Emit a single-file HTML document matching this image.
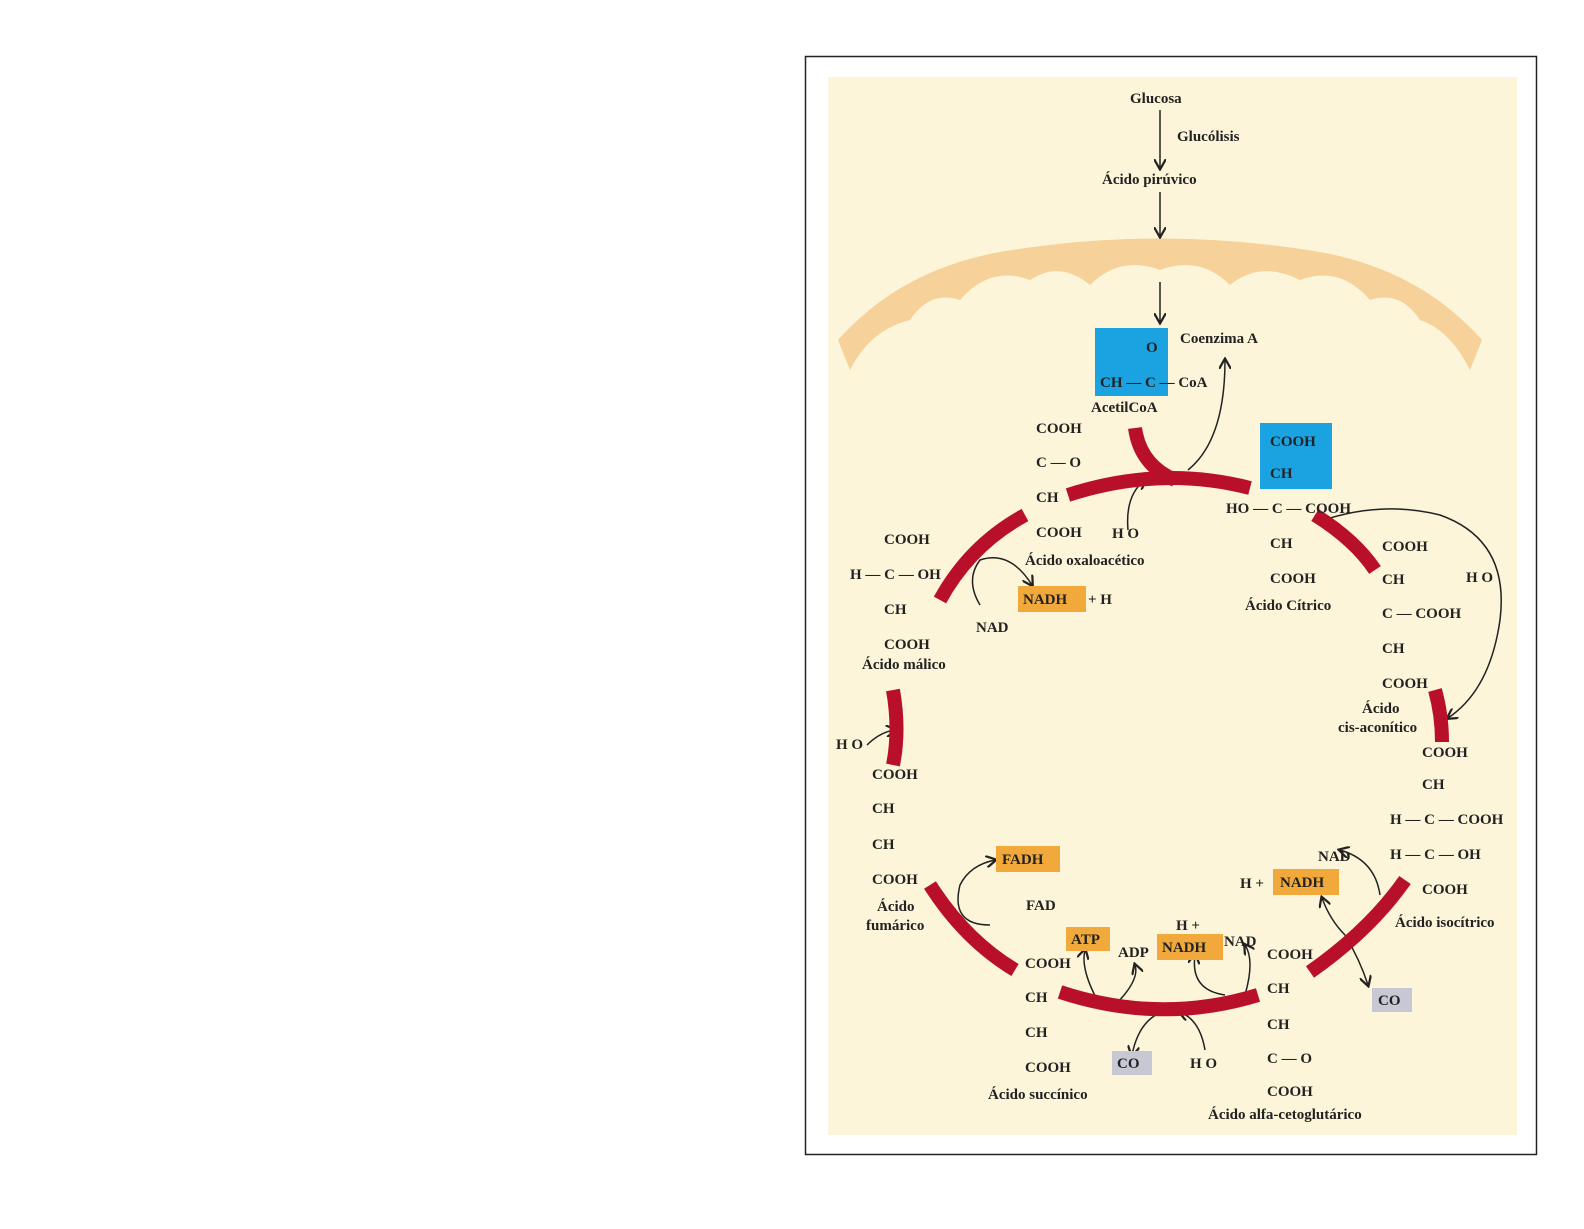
<!DOCTYPE html>
<html><head><meta charset="utf-8"><style>
body{margin:0;background:#fff}
svg text{font-family:"Liberation Serif",serif;font-size:15px;font-weight:bold;fill:#222}
</style></head><body>
<svg width="1584" height="1224" viewBox="0 0 1584 1224">
<defs><marker id="a" markerWidth="8" markerHeight="8" refX="6" refY="4" orient="auto"><path d="M0,0 L7,4 L0,8" fill="none" stroke="#222" stroke-width="1.5"/></marker></defs>
<rect x="805.5" y="56.5" width="731" height="1098" fill="#fff" stroke="#222" stroke-width="1.5"/>
<rect x="828" y="77" width="689" height="1058" fill="#fcf5d9"/>
<path d="M838,340 Q900,270 1000,252 Q1160,225 1320,252 Q1420,270 1482,340 L1470,370 Q1450,330 1420,320 Q1400,290 1370,300 Q1340,265 1300,280 Q1260,260 1230,285 Q1200,255 1160,270 Q1120,255 1090,285 Q1060,260 1030,280 Q990,265 960,300 Q930,290 910,320 Q870,330 850,370 Z" fill="#f6d29a"/>
<text x="1130" y="103">Glucosa</text>
<text x="1177" y="141">Glucólisis</text>
<text x="1102" y="184">Ácido pirúvico</text>
<g stroke="#222" stroke-width="1.5" fill="none" marker-end="url(#a)">
<path d="M1160,110 V168"/><path d="M1160,192 V236"/><path d="M1160,282 V322"/>
<path d="M1188,470 Q1225,440 1225,360"/><path d="M1128,530 Q1125,495 1145,480"/>
<path d="M1318,522 Q1380,500 1440,515 Q1510,540 1500,620 Q1490,690 1448,718"/>
<path d="M980,605 Q965,580 980,560 Q1010,550 1032,585"/>
<path d="M867,745 Q880,732 895,730"/>
<path d="M990,925 Q950,925 960,885 Q970,865 995,860"/>
<path d="M1115,1005 Q1140,980 1135,965"/><path d="M1100,1005 Q1080,970 1085,950"/>
<path d="M1245,995 Q1255,960 1245,945"/><path d="M1225,995 Q1190,990 1195,955"/>
<path d="M1170,1010 Q1140,1015 1132,1055"/><path d="M1205,1050 Q1200,1020 1180,1012"/>
<path d="M1380,895 Q1375,860 1340,850"/><path d="M1345,935 Q1330,920 1322,898"/>
<path d="M1345,935 Q1360,960 1368,985"/>
</g>
<g stroke="#b8102a" stroke-width="14" fill="none">
<path d="M1068,495 Q1160,465 1250,488"/><path d="M1135,428 Q1140,465 1175,480"/>
<path d="M940,600 Q970,545 1025,515"/><path d="M893,690 Q900,730 893,765"/>
<path d="M930,885 Q965,940 1015,970"/><path d="M1060,992 Q1160,1025 1258,995"/>
<path d="M1310,972 Q1370,930 1405,880"/><path d="M1435,690 Q1442,715 1442,742"/>
<path d="M1315,515 Q1355,540 1375,570"/>
</g>
<rect x="1095" y="328" width="73" height="68" fill="#1aa3e0"/>
<rect x="1260" y="423" width="72" height="66" fill="#1aa3e0"/>
<rect x="1018" y="586" width="68" height="26" fill="#f2a93b"/>
<rect x="996" y="846" width="64" height="26" fill="#f2a93b"/>
<rect x="1273" y="869" width="66" height="26" fill="#f2a93b"/>
<rect x="1066" y="927" width="44" height="24" fill="#f2a93b"/>
<rect x="1157" y="934" width="66" height="26" fill="#f2a93b"/>
<rect x="1112" y="1051" width="40" height="24" fill="#c8c8d4"/>
<rect x="1372" y="988" width="40" height="24" fill="#c8c8d4"/>
<text x="1146" y="352">O</text><text x="1100" y="387">CH — C — CoA</text><text x="1180" y="343">Coenzima A</text>
<text x="1091" y="412">AcetilCoA</text>
<text x="1036" y="433">COOH</text><text x="1036" y="467">C — O</text><text x="1036" y="502">CH</text><text x="1036" y="537">COOH</text>
<text x="1112" y="538">H O</text><text x="1025" y="565">Ácido oxaloacético</text>
<text x="1023" y="604">NADH</text><text x="1088" y="604">+ H</text><text x="976" y="632">NAD</text>
<text x="1270" y="446">COOH</text><text x="1270" y="478">CH</text><text x="1226" y="513">HO — C — COOH</text>
<text x="1270" y="548">CH</text><text x="1270" y="583">COOH</text><text x="1245" y="610">Ácido Cítrico</text>
<text x="1382" y="551">COOH</text><text x="1382" y="584">CH</text><text x="1382" y="618">C — COOH</text><text x="1382" y="653">CH</text><text x="1382" y="688">COOH</text>
<text x="1466" y="582">H O</text><text x="1362" y="713">Ácido</text><text x="1338" y="732">cis-aconítico</text>
<text x="1422" y="757">COOH</text><text x="1422" y="789">CH</text><text x="1390" y="824">H — C — COOH</text><text x="1390" y="859">H — C — OH</text>
<text x="1422" y="894">COOH</text><text x="1395" y="927">Ácido isocítrico</text>
<text x="1318" y="861">NAD</text><text x="1240" y="888">H +</text><text x="1280" y="887">NADH</text><text x="1378" y="1005">CO</text>
<text x="1267" y="959">COOH</text><text x="1267" y="993">CH</text><text x="1267" y="1029">CH</text><text x="1267" y="1063">C — O</text><text x="1267" y="1096">COOH</text>
<text x="1208" y="1119">Ácido alfa-cetoglutárico</text>
<text x="1224" y="946">NAD</text><text x="1176" y="930">H +</text><text x="1162" y="952">NADH</text>
<text x="1071" y="944">ATP</text><text x="1118" y="957">ADP</text>
<text x="1117" y="1068">CO</text><text x="1190" y="1068">H O</text>
<text x="1025" y="968">COOH</text><text x="1025" y="1002">CH</text><text x="1025" y="1037">CH</text><text x="1025" y="1072">COOH</text>
<text x="988" y="1099">Ácido succínico</text>
<text x="1002" y="864">FADH</text><text x="1026" y="910">FAD</text>
<text x="872" y="779">COOH</text><text x="872" y="813">CH</text><text x="872" y="849">CH</text><text x="872" y="884">COOH</text>
<text x="877" y="911">Ácido</text><text x="866" y="930">fumárico</text><text x="836" y="749">H O</text>
<text x="884" y="544">COOH</text><text x="850" y="579">H — C — OH</text><text x="884" y="614">CH</text><text x="884" y="649">COOH</text>
<text x="862" y="669">Ácido málico</text>
</svg>
</body></html>
